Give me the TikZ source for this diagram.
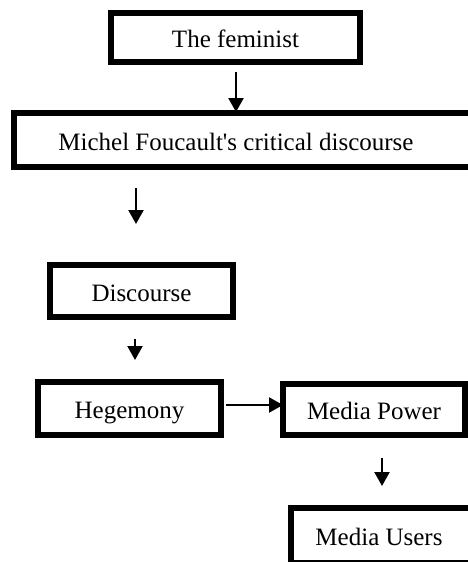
\documentclass[tikz,border=0pt]{standalone}
\usepackage{fontspec}
\setmainfont{Liberation Serif}
\usetikzlibrary{arrows.meta,calc}
\begin{document}
\begin{tikzpicture}[x=1pt,y=-1pt,
  box/.style={draw=black,line width=6pt,rectangle,inner sep=0pt,fill=white,
    text height=20pt,text depth=0pt,
    font=\fontsize{25pt}{28pt}\selectfont},
  arr/.style={line width=2.2pt,-{Triangle[width=15pt,length=14pt]}}]
\useasboundingbox[clip] (0,0) rectangle (468,562);
\fill[white] (0,0) rectangle (468,562);
\node[box,minimum width=249pt,minimum height=49pt] (fem) at (235.5,37.5) {The feminist};
\node[box,minimum width=463pt,minimum height=54pt] (mic) at (245.5,140) {\hspace*{-19pt}Michel Foucault\textquotesingle s critical discourse};
\node[box,minimum width=183pt,minimum height=52pt] (dis) at (141.5,291) {Discourse};
\node[box,minimum width=183pt,minimum height=53pt] (heg) at (129.5,408.5) {Hegemony};
\node[box,minimum width=182pt,minimum height=51pt] (pow) at (374,409.5) {Media Power};
\node[box,minimum width=186pt,minimum height=55pt] (usr) at (384,535.5) {\hspace*{-10pt}Media Users};
\draw[arr,shorten <=7pt,shorten >=-2pt] ([xshift=0.5pt]fem.south) -- ([xshift=0.5pt]fem.south |- mic.north);
\draw[arr,shorten <=18pt,shorten >=38pt] ([xshift=-5.5pt]dis.north |- mic.south) -- ([xshift=-5.5pt]dis.north);
\draw[arr,shorten <=19pt,shorten >=19pt] ([xshift=-6.5pt]dis.south) -- ([xshift=-6.5pt]dis.south |- heg.north);
\draw[arr,shorten <=2pt,shorten >=-3pt] ([yshift=3.5pt]heg.east) -- ([yshift=3.5pt]heg.east -| pow.west);
\draw[arr,shorten <=20pt,shorten >=19pt] ([xshift=8pt]pow.south) -- ([xshift=8pt]pow.south |- usr.north);
\end{tikzpicture}
\end{document}
